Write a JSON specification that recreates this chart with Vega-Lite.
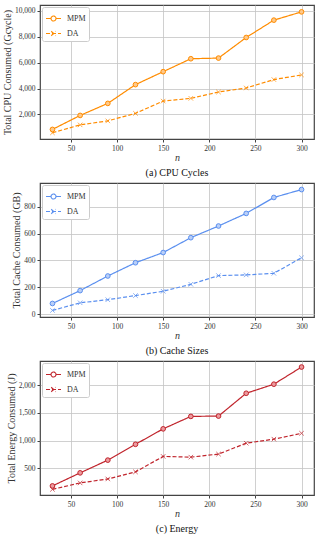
{
  "$schema": "https://vega.github.io/schema/vega-lite/v6.json",
  "padding": {"left": 1, "top": 4, "right": 6, "bottom": 0},
  "spacing": 3,
  "resolve": {"scale": {"strokeDash": "independent", "shape": "independent"}, "legend": {"strokeDash": "independent", "shape": "independent"}},
  "config": {
    "font": "Liberation Serif",
    "view": {"stroke": "#444", "strokeWidth": 1.2},
    "axis": {"gridColor": "#c4c4c4", "gridWidth": 0.8, "domain": false, "tickSize": 3, "tickColor": "#444", "labelFontSize": 7.5, "labelColor": "#333", "titleFontSize": 10, "titleFontWeight": "normal", "titleColor": "#333", "labelPadding": 2, "titlePadding": 2},
    "axisX": {"titlePadding": 1},
    "title": {"orient": "bottom", "fontSize": 10, "fontWeight": "normal", "offset": 5, "color": "#111"},
    "legend": {"orient": "top-left", "offset": 2, "padding": 3, "strokeColor": "#cccccc", "fillColor": "white", "cornerRadius": 2, "labelFontSize": 8, "labelColor": "#333", "labelOffset": 5, "rowPadding": 1, "symbolSize": 225, "symbolStrokeWidth": 1.1, "title": null}
  },
  "vconcat": [
    {
      "width": 274, "height": 134,
      "title": "(a) CPU Cycles",
      "data": {"values": [
        {"n": 30, "series": "MPM", "v": 840}, {"n": 60, "series": "MPM", "v": 1920}, {"n": 90, "series": "MPM", "v": 2850}, {"n": 120, "series": "MPM", "v": 4300}, {"n": 150, "series": "MPM", "v": 5300}, {"n": 180, "series": "MPM", "v": 6300}, {"n": 210, "series": "MPM", "v": 6350}, {"n": 240, "series": "MPM", "v": 7940}, {"n": 270, "series": "MPM", "v": 9280}, {"n": 300, "series": "MPM", "v": 9920},
        {"n": 30, "series": "DA", "v": 580}, {"n": 60, "series": "DA", "v": 1190}, {"n": 90, "series": "DA", "v": 1500}, {"n": 120, "series": "DA", "v": 2080}, {"n": 150, "series": "DA", "v": 3030}, {"n": 180, "series": "DA", "v": 3240}, {"n": 210, "series": "DA", "v": 3730}, {"n": 240, "series": "DA", "v": 4040}, {"n": 270, "series": "DA", "v": 4690}, {"n": 300, "series": "DA", "v": 5050}
      ]},
      "encoding": {
        "x": {"field": "n", "type": "quantitative", "scale": {"domain": [16.5, 313.5], "nice": false, "zero": false}, "axis": {"values": [50, 100, 150, 200, 250, 300], "title": "n", "titleFontStyle": "italic"}},
        "y": {"field": "v", "type": "quantitative", "scale": {"domain": [100, 10450], "nice": false, "zero": false}, "axis": {"values": [2000, 4000, 6000, 8000, 10000], "format": ",d", "title": "Total CPU Consumed (Gcycle)"}}
      },
      "layer": [
        {"mark": {"type": "line", "color": "#ff8c00", "strokeWidth": 1.2},
         "encoding": {"strokeDash": {"field": "series", "type": "nominal", "scale": {"domain": ["MPM", "DA"], "range": [[1, 0], [4, 2]]}}}},
        {"transform": [{"filter": "datum.series === 'MPM'"}],
         "mark": {"type": "point", "shape": "circle", "stroke": "#ff8c00", "fill": "#ffc98a", "fillOpacity": 1, "strokeWidth": 1, "size": 22, "filled": false}},
        {"transform": [{"filter": "datum.series === 'DA'"}],
         "mark": {"type": "point", "shape": "M-1,-1L1,1M-1,1L1,-1", "stroke": "#ff8c00", "strokeWidth": 1, "size": 20, "filled": false}},
        {"transform": [{"filter": "datum.series === 'none'"}],
         "mark": {"type": "point", "color": "#ff8c00", "strokeWidth": 1.1, "size": 225, "filled": false},
         "encoding": {"shape": {"field": "series", "type": "nominal", "scale": {"domain": ["MPM", "DA"], "range": ["M-1,0L-0.33,0M0.33,0L1,0M0.33,0A0.33,0.33 0 1,1 -0.33,0A0.33,0.33 0 1,1 0.33,0", "M-1,0L1,0M-0.3,-0.3L0.3,0.3M-0.3,0.3L0.3,-0.3"]}}}}
      ]
    },
    {
      "width": 274, "height": 134,
      "title": "(b) Cache Sizes",
      "data": {"values": [
        {"n": 30, "series": "MPM", "v": 79}, {"n": 60, "series": "MPM", "v": 175}, {"n": 90, "series": "MPM", "v": 284}, {"n": 120, "series": "MPM", "v": 383}, {"n": 150, "series": "MPM", "v": 459}, {"n": 180, "series": "MPM", "v": 570}, {"n": 210, "series": "MPM", "v": 657}, {"n": 240, "series": "MPM", "v": 751}, {"n": 270, "series": "MPM", "v": 870}, {"n": 300, "series": "MPM", "v": 929},
        {"n": 30, "series": "DA", "v": 27}, {"n": 60, "series": "DA", "v": 84}, {"n": 90, "series": "DA", "v": 107}, {"n": 120, "series": "DA", "v": 138}, {"n": 150, "series": "DA", "v": 170}, {"n": 180, "series": "DA", "v": 222}, {"n": 210, "series": "DA", "v": 287}, {"n": 240, "series": "DA", "v": 292}, {"n": 270, "series": "DA", "v": 304}, {"n": 300, "series": "DA", "v": 420}
      ]},
      "encoding": {
        "x": {"field": "n", "type": "quantitative", "scale": {"domain": [16.5, 313.5], "nice": false, "zero": false}, "axis": {"values": [50, 100, 150, 200, 250, 300], "title": "n", "titleFontStyle": "italic"}},
        "y": {"field": "v", "type": "quantitative", "scale": {"domain": [-22, 978], "nice": false, "zero": false}, "axis": {"values": [0, 200, 400, 600, 800], "format": "d", "title": "Total Cache Consumed (GB)"}}
      },
      "layer": [
        {"mark": {"type": "line", "color": "#5a8fef", "strokeWidth": 1.2},
         "encoding": {"strokeDash": {"field": "series", "type": "nominal", "scale": {"domain": ["MPM", "DA"], "range": [[1, 0], [4, 2]]}}}},
        {"transform": [{"filter": "datum.series === 'MPM'"}],
         "mark": {"type": "point", "shape": "circle", "stroke": "#5a8fef", "fill": "#b9cff8", "fillOpacity": 1, "strokeWidth": 1, "size": 22, "filled": false}},
        {"transform": [{"filter": "datum.series === 'DA'"}],
         "mark": {"type": "point", "shape": "M-1,-1L1,1M-1,1L1,-1", "stroke": "#5a8fef", "strokeWidth": 1, "size": 20, "filled": false}},
        {"transform": [{"filter": "datum.series === 'none'"}],
         "mark": {"type": "point", "color": "#5a8fef", "strokeWidth": 1.1, "size": 225, "filled": false},
         "encoding": {"shape": {"field": "series", "type": "nominal", "scale": {"domain": ["MPM", "DA"], "range": ["M-1,0L-0.33,0M0.33,0L1,0M0.33,0A0.33,0.33 0 1,1 -0.33,0A0.33,0.33 0 1,1 0.33,0", "M-1,0L1,0M-0.3,-0.3L0.3,0.3M-0.3,0.3L0.3,-0.3"]}}}}
      ]
    },
    {
      "width": 274, "height": 134,
      "title": "(c) Energy",
      "data": {"values": [
        {"n": 30, "series": "MPM", "v": 180}, {"n": 60, "series": "MPM", "v": 416}, {"n": 90, "series": "MPM", "v": 646}, {"n": 120, "series": "MPM", "v": 932}, {"n": 150, "series": "MPM", "v": 1211}, {"n": 180, "series": "MPM", "v": 1436}, {"n": 210, "series": "MPM", "v": 1442}, {"n": 240, "series": "MPM", "v": 1854}, {"n": 270, "series": "MPM", "v": 2018}, {"n": 300, "series": "MPM", "v": 2328},
        {"n": 30, "series": "DA", "v": 118}, {"n": 60, "series": "DA", "v": 234}, {"n": 90, "series": "DA", "v": 306}, {"n": 120, "series": "DA", "v": 434}, {"n": 150, "series": "DA", "v": 713}, {"n": 180, "series": "DA", "v": 700}, {"n": 210, "series": "DA", "v": 755}, {"n": 240, "series": "DA", "v": 952}, {"n": 270, "series": "DA", "v": 1025}, {"n": 300, "series": "DA", "v": 1131}
      ]},
      "encoding": {
        "x": {"field": "n", "type": "quantitative", "scale": {"domain": [16.5, 313.5], "nice": false, "zero": false}, "axis": {"values": [50, 100, 150, 200, 250, 300], "title": "n", "titleFontStyle": "italic"}},
        "y": {"field": "v", "type": "quantitative", "scale": {"domain": [16, 2437], "nice": false, "zero": false}, "axis": {"values": [500, 1000, 1500, 2000], "format": ",d", "title": "Total Energy Consumed (J)"}}
      },
      "layer": [
        {"mark": {"type": "line", "color": "#c0242c", "strokeWidth": 1.2},
         "encoding": {"strokeDash": {"field": "series", "type": "nominal", "scale": {"domain": ["MPM", "DA"], "range": [[1, 0], [4, 2]]}}}},
        {"transform": [{"filter": "datum.series === 'MPM'"}],
         "mark": {"type": "point", "shape": "circle", "stroke": "#c0242c", "fill": "#ec9a9e", "fillOpacity": 1, "strokeWidth": 1, "size": 22, "filled": false}},
        {"transform": [{"filter": "datum.series === 'DA'"}],
         "mark": {"type": "point", "shape": "M-1,-1L1,1M-1,1L1,-1", "stroke": "#c0242c", "strokeWidth": 1, "size": 20, "filled": false}},
        {"transform": [{"filter": "datum.series === 'none'"}],
         "mark": {"type": "point", "color": "#c0242c", "strokeWidth": 1.1, "size": 225, "filled": false},
         "encoding": {"shape": {"field": "series", "type": "nominal", "scale": {"domain": ["MPM", "DA"], "range": ["M-1,0L-0.33,0M0.33,0L1,0M0.33,0A0.33,0.33 0 1,1 -0.33,0A0.33,0.33 0 1,1 0.33,0", "M-1,0L1,0M-0.3,-0.3L0.3,0.3M-0.3,0.3L0.3,-0.3"]}}}}
      ]
    }
  ]
}
